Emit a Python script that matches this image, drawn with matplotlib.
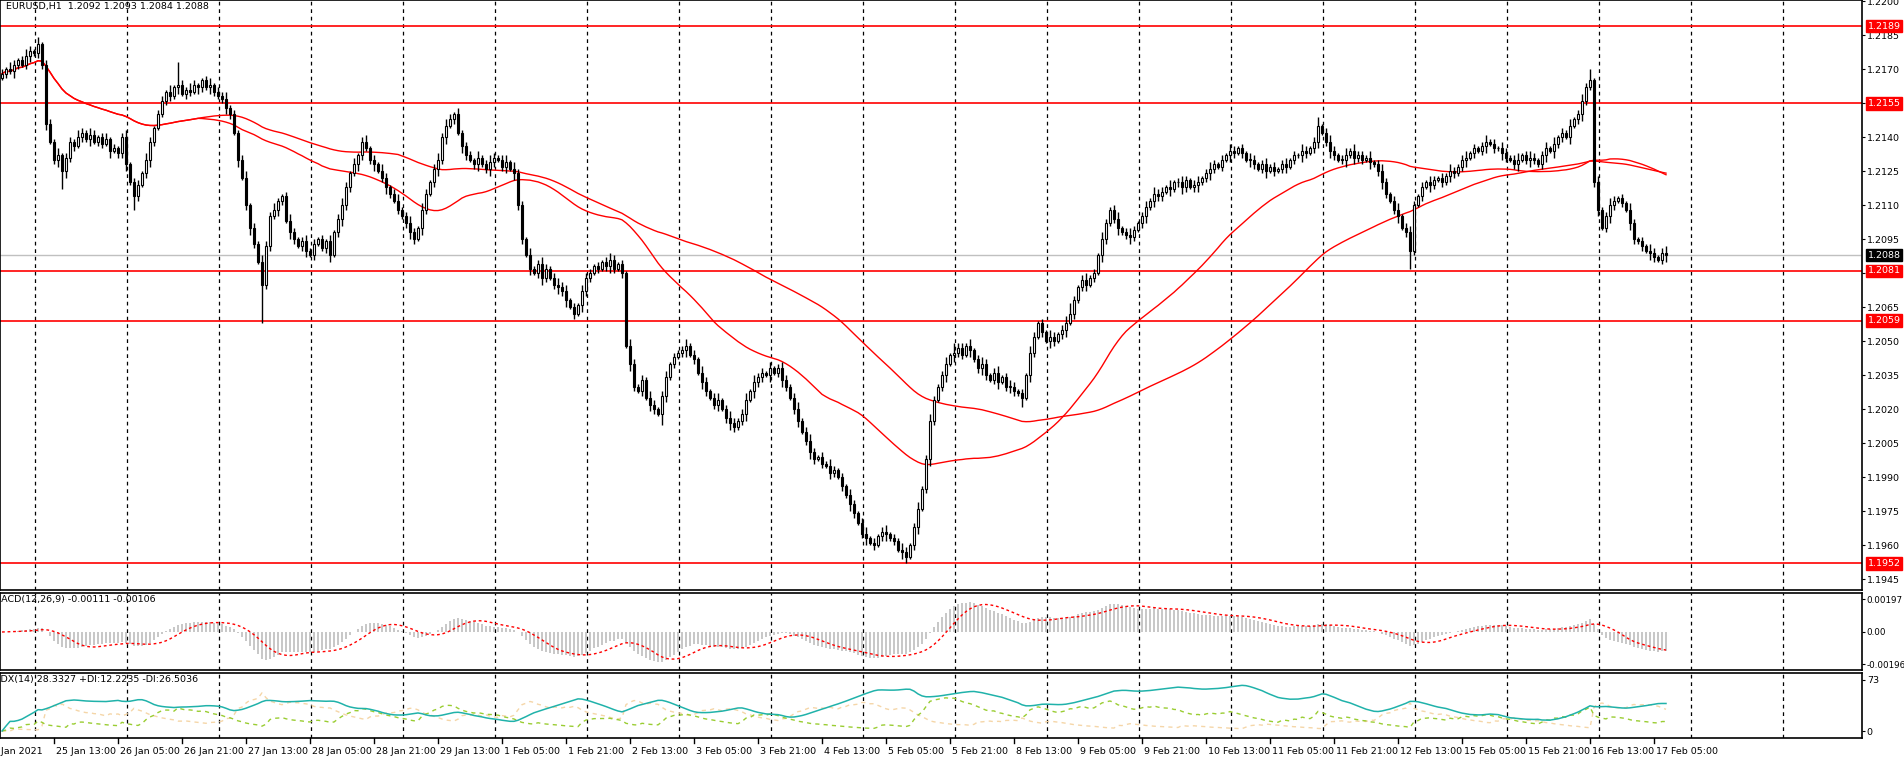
import numpy as np
import pandas as pd
import matplotlib
matplotlib.use("Agg")
import matplotlib.pyplot as plt
from matplotlib.patches import Rectangle
import matplotlib.transforms as mtr

# ---------------- data (closes in pips: 2168 -> 1.2168) ----------------
CLOSE_PIPS = [
2168,2170,2169,2172,2174,2172,2176,2178,2177,2181,
2172,2146,2138,2130,2132,2125,2131,2138,2136,2140,
2142,2139,2141,2138,2140,2137,2139,2134,2135,2133,
2140,2128,2120,2114,2119,2124,2130,2138,2144,2150,
2156,2160,2158,2162,2163,2159,2161,2160,2163,2162,
2165,2162,2163,2160,2158,2157,2153,2150,2142,2130,
2122,2110,2100,2093,2085,2075,2092,2105,2108,2112,
2114,2103,2098,2095,2092,2094,2090,2088,2093,2095,
2091,2094,2088,2098,2104,2110,2118,2124,2128,2132,
2138,2135,2130,2128,2125,2122,2118,2115,2112,2108,
2105,2102,2098,2095,2100,2108,2115,2120,2126,2130,
2140,2145,2148,2150,2142,2136,2132,2130,2128,2131,
2128,2126,2129,2131,2130,2127,2129,2126,2124,2110,
2095,2088,2082,2080,2084,2078,2082,2078,2075,2074,
2072,2068,2065,2062,2066,2072,2078,2080,2083,2082,
2085,2083,2086,2082,2084,2080,2048,2040,2030,2028,
2033,2025,2022,2020,2018,2026,2034,2040,2043,2045,
2046,2048,2044,2042,2036,2032,2028,2025,2022,2024,
2020,2016,2014,2012,2015,2018,2024,2028,2032,2034,
2036,2035,2038,2036,2038,2033,2030,2025,2020,2015,
2010,2006,2001,1998,1999,1996,1995,1992,1993,1990,
1986,1982,1978,1974,1970,1965,1963,1961,1960,1964,
1966,1965,1963,1962,1958,1957,1955,1960,1968,1976,
1985,1998,2015,2024,2030,2035,2040,2044,2045,2047,
2044,2048,2046,2042,2038,2040,2035,2033,2036,2032,
2034,2030,2030,2028,2027,2025,2035,2045,2052,2058,
2054,2050,2052,2050,2053,2055,2058,2062,2068,2074,
2077,2075,2078,2080,2088,2095,2102,2108,2104,2100,
2098,2097,2096,2099,2102,2105,2109,2112,2115,2114,
2116,2118,2117,2120,2120,2118,2121,2118,2119,2120,
2122,2124,2126,2128,2127,2130,2132,2134,2133,2135,
2133,2130,2130,2128,2126,2128,2125,2127,2125,2126,
2128,2127,2130,2132,2132,2134,2133,2135,2138,2145,
2142,2138,2134,2132,2130,2130,2132,2134,2131,2132,
2130,2131,2129,2128,2125,2120,2115,2112,2108,2105,
2100,2098,2090,2110,2114,2118,2120,2119,2121,2122,
2120,2123,2125,2124,2127,2130,2131,2133,2135,2134,
2136,2138,2137,2135,2135,2133,2131,2130,2128,2130,
2132,2130,2131,2130,2128,2132,2135,2134,2137,2140,
2142,2140,2145,2148,2150,2156,2162,2165,2120,2108,
2100,2105,2110,2112,2113,2111,2108,2102,2095,2094,
2092,2090,2089,2087,2086,2089,2088]
FIRST_OPEN_PIPS = 2166

UPPER_WICK = ("2132123213" "1221312213" "2132123121" "2312213212" "2131a21321"
              "1231223121" "2312132231" "1232123121" "2131232131" "2312132123"
              "1232132123" "2321312213" "1232123132" "2131232123" "2312132212"
              "1232121321" "2132123121" "2312132123" "1232123132" "2131232123"
              "1232121321" "2132123121" "2312132123" "1232123142" "2131232123"
              "1232121321" "2132123521" "2312132123" "1232123132" "2131232123"
              "1232121321" "2132123121" "2312132124" "1232123132" "2131232123"
              "1232121321" "2132123121" "2312132123" "1232123131" "2131232513"
              "1232121321" "2132123121")
LOWER_WICK = ("1213212312" "2312383221" "2131221312" "2316212321" "1221312213"
              "2132123213" "12321h2213" "2132123121" "1231232213" "2123123212"
              "1232132123" "2312132123" "1232123132" "2131232123" "2312132212"
              "1232121321" "2132153121" "2312132123" "1232123132" "2131232123"
              "1232121321" "2132123121" "2312133123" "1232123132" "2131232123"
              "1232141321" "2132123121" "2312132123" "1232123132" "2131232123"
              "1232121321" "2132123121" "2312132123" "1232123132" "2131232123"
              "1282121321" "2132123121" "2312132123" "1232123132" "2131232123"
              "1232121321" "2132123121")

RED_LEVELS = [1.2189, 1.2155, 1.2081, 1.2059, 1.1952]
LAST_PRICE = 1.2088
PRICE_TICKS = [1.1945,1.1960,1.1975,1.1990,1.2005,1.2020,1.2035,1.2050,1.2065,1.2080,
               1.2095,1.2110,1.2125,1.2140,1.2155,1.2170,1.2185,1.2200]
TIME_LABELS = ["25 Jan 13:00","26 Jan 05:00","26 Jan 21:00","27 Jan 13:00","28 Jan 05:00",
               "28 Jan 21:00","29 Jan 13:00","1 Feb 05:00","1 Feb 21:00","2 Feb 13:00",
               "3 Feb 05:00","3 Feb 21:00","4 Feb 13:00","5 Feb 05:00","5 Feb 21:00",
               "8 Feb 13:00","9 Feb 05:00","9 Feb 21:00","10 Feb 13:00","11 Feb 05:00",
               "11 Feb 21:00","12 Feb 13:00","15 Feb 05:00","15 Feb 21:00","16 Feb 13:00",
               "17 Feb 05:00"]
FIRST_LABEL = "25 Jan 2021"

# ---------------- derived series ----------------
N = len(CLOSE_PIPS)
c = 1.0 + np.array(CLOSE_PIPS) / 10000.0
o = np.concatenate([[1.0 + FIRST_OPEN_PIPS / 10000.0], c[:-1]])
uw = np.array([int(ch, 36) for ch in UPPER_WICK[:N]]) / 10000.0
lw = np.array([int(ch, 36) for ch in LOWER_WICK[:N]]) / 10000.0
h = np.maximum(o, c) + uw
l = np.minimum(o, c) - lw
x = np.arange(N)
cs = pd.Series(c)
ma50 = cs.rolling(50, min_periods=1).mean()
ma100 = cs.rolling(100, min_periods=1).mean()
macd = cs.ewm(span=12, adjust=False).mean() - cs.ewm(span=26, adjust=False).mean()
sig = macd.rolling(9, min_periods=1).mean()
hs, ls_ = pd.Series(h), pd.Series(l)
up = hs.diff(); dn = -ls_.diff()
pdm = np.where((up > dn) & (up > 0), up, 0.0)
mdm = np.where((dn > up) & (dn > 0), dn, 0.0)
tr = pd.concat([hs - ls_, (hs - cs.shift()).abs(), (ls_ - cs.shift()).abs()], axis=1).max(axis=1)
atr = tr.ewm(alpha=1/14, adjust=False).mean()
pdi = 100 * pd.Series(pdm).ewm(alpha=1/14, adjust=False).mean() / atr
mdi = 100 * pd.Series(mdm).ewm(alpha=1/14, adjust=False).mean() / atr
dx = 100 * (pdi - mdi).abs() / (pdi + mdi).replace(0, np.nan)
adx = dx.fillna(0).ewm(alpha=1/14, adjust=False).mean()

# ---------------- layout ----------------
FS = 6.8
W, H = 1904, 760
fig = plt.figure(figsize=(W/100, H/100), dpi=100)
fig.patch.set_facecolor("white")
AXR = 1862
def axpx(top, bot):
    return fig.add_axes([0, 1 - bot/H, AXR/W, (bot - top)/H])
ax = axpx(0, 590)
axm = axpx(593, 670)
axa = axpx(673, 738)
XL = (-0.5, (AXR - 2) / 4.0)
for a in (ax, axm, axa):
    a.set_xlim(*XL)
    a.set_xticks([])
    for s in a.spines.values():
        s.set_color("black"); s.set_linewidth(1.2)
    a.yaxis.tick_right()
    a.tick_params(axis="y", labelsize=FS, length=2, pad=1.5, colors="black")
    for k in range(21):
        gx = 8.25 + 23 * k
        if gx < XL[1]:
            a.axvline(gx, color="black", ls=(0, (3, 3)), lw=0.9, zorder=0)
axm.tick_params(axis="y", labelsize=6.3, pad=1)

# main
ax.set_ylim(1.22005 - 590/22670, 1.22005)
ax.set_yticks(PRICE_TICKS)
ax.set_yticklabels([f"{t:.4f}" for t in PRICE_TICKS])
for lv in RED_LEVELS:
    ax.axhline(lv, color="red", lw=1.2, zorder=1)
ax.axhline(LAST_PRICE, color="#c0c0c0", lw=1, zorder=1)
ax.plot(x, ma50, color="red", lw=1, zorder=2)
ax.plot(x, ma100, color="red", lw=1, zorder=2)
bw = 0.7
ax.vlines(x, l, h, color="black", lw=1, zorder=3)
for i in range(N):
    bull = c[i] >= o[i]
    b0, bh = min(o[i], c[i]), max(abs(c[i] - o[i]), 0.00002)
    ax.add_patch(Rectangle((x[i] - bw/2, b0), bw, bh, facecolor="white" if bull else "black",
                           edgecolor="black", lw=0.8, zorder=4))
trans = mtr.blended_transform_factory(ax.transAxes, ax.transData)
for lv in RED_LEVELS:
    ax.text(1.003, lv, f"{lv:.4f}", transform=trans, ha="left", va="center", fontsize=FS,
            color="white", zorder=10, clip_on=False,
            bbox=dict(boxstyle="square,pad=0.2", fc="red", ec="red"))
ax.text(1.003, LAST_PRICE, f"{LAST_PRICE:.4f}", transform=trans, ha="left", va="center", fontsize=FS,
        color="white", zorder=10, clip_on=False,
        bbox=dict(boxstyle="square,pad=0.2", fc="black", ec="black"))
ax.text(0.003, 0.997, "EURUSD,H1  1.2092 1.2093 1.2084 1.2088", transform=ax.transAxes,
        ha="left", va="top", fontsize=FS)

# MACD
axm.set_ylim(-0.0023, 0.00236)
axm.set_yticks([-0.00196, 0.0, 0.00197])
axm.set_yticklabels(["-0.00196", "0.00", "0.00197"])
axm.vlines(x, 0, macd, color="#b8b8b8", lw=1.1)
axm.plot(x, sig, color="red", lw=1, ls=(0, (2, 2)))
axm.text(-0.004, 0.97, "MACD(12,26,9) -0.00111 -0.00106", transform=axm.transAxes,
         ha="left", va="top", fontsize=FS, clip_on=True)

# ADX
axa.set_ylim(-10, 83)
axa.set_yticks([0, 73])
axa.plot(x, mdi, color="#f5d6a8", lw=1, ls=(0, (3, 3)))
axa.plot(x, pdi, color="#9acd32", lw=1, ls=(0, (3, 3)))
axa.plot(x, adx, color="#20b2aa", lw=1.1)
axa.text(-0.003, 0.97, "ADX(14) 28.3327 +DI:12.2235 -DI:26.5036", transform=axa.transAxes,
         ha="left", va="top", fontsize=FS, clip_on=True)

# time labels
def px_of(bar):
    return 2 + 4 * bar
fig.text(-14/W, 1 - 751/H, FIRST_LABEL, ha="left", va="center", fontsize=FS)
for k, lab in enumerate(TIME_LABELS):
    bi = 13 + 16 * k
    xp = px_of(bi)
    fig.add_artist(plt.Line2D([xp/W, xp/W], [1 - 738/H, 1 - 743/H], color="black", lw=1))
    fig.text((xp + 2)/W, 1 - 751/H, lab, ha="left", va="center", fontsize=FS)

fig.savefig("out.png", dpi=100, facecolor="white")
